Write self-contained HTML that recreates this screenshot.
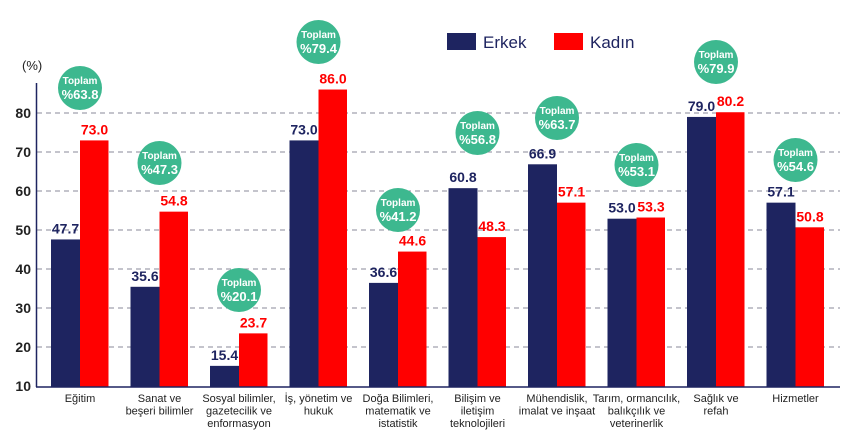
<!DOCTYPE html>
<html><head><meta charset="utf-8"><style>
body{margin:0;background:#fff;}
svg{display:block;font-family:"Liberation Sans",sans-serif;}
</style></head><body>
<svg width="860" height="446" viewBox="0 0 860 446" xmlns="http://www.w3.org/2000/svg">
<g stroke="#8a8a9a" stroke-dasharray="5,4" stroke-width="1">
<line x1="37" x2="840" y1="113" y2="113"/><line x1="37" x2="840" y1="152" y2="152"/>
<line x1="37" x2="840" y1="191" y2="191"/><line x1="37" x2="840" y1="230" y2="230"/>
<line x1="37" x2="840" y1="269" y2="269"/><line x1="37" x2="840" y1="308" y2="308"/>
<line x1="37" x2="840" y1="347" y2="347"/>
</g>
<g font-size="14" fill="#222" text-anchor="end" font-weight="bold">
<text x="31" y="118">80</text><text x="31" y="157">70</text><text x="31" y="196">60</text>
<text x="31" y="235">50</text><text x="31" y="274">40</text><text x="31" y="313">30</text>
<text x="31" y="352">20</text><text x="31" y="391">10</text>
</g>
<text x="22" y="70" font-size="13" fill="#222">(%)</text>
<rect x="447" y="33" width="29" height="17" fill="#1e2460"/>
<text x="483" y="48" font-size="17" fill="#1e2460">Erkek</text>
<rect x="554" y="33" width="29" height="17" fill="#ff0000"/>
<text x="590" y="48" font-size="17" fill="#1e2460">Kadın</text>
<g id="bars"></g>
<line x1="36.5" x2="36.5" y1="83" y2="387" stroke="#1e2460" stroke-width="1.5"/>
<line x1="36" x2="840" y1="387" y2="387" stroke="#1e2460" stroke-width="1.5"/>
<script>
var d=[["Eğitim",47.7,73.0,63.8,88,["Eğitim"]],["Sanat",35.6,54.8,47.3,163,["Sanat ve","beşeri bilimler"]],
["S",15.4,23.7,20.1,290,["Sosyal bilimler,","gazetecilik ve","enformasyon"]],["I",73.0,86.0,79.4,42,["İş, yönetim ve","hukuk"]],
["D",36.6,44.6,41.2,210,["Doğa Bilimleri,","matematik ve","istatistik"]],["B",60.8,48.3,56.8,133,["Bilişim ve","iletişim","teknolojileri"]],
["M",66.9,57.1,63.7,118,["Mühendislik,","imalat ve inşaat"]],["T",53.0,53.3,53.1,165,["Tarım, ormancılık,","balıkçılık ve","veterinerlik"]],
["S2",79.0,80.2,79.9,62,["Sağlık ve","refah"]],["H",57.1,50.8,54.6,160,["Hizmetler"]]];
var ns="http://www.w3.org/2000/svg",g=document.getElementById("bars");
function el(t,a,txt){var e=document.createElementNS(ns,t);for(var k in a)e.setAttribute(k,a[k]);if(txt!=null)e.textContent=txt;g.appendChild(e);return e;}
function Y(v){return 387-(v-10)*3.914;}
d.forEach(function(r,i){var c=80+i*79.5;
 var ye=Y(r[1]),yk=Y(r[2]);
 el("rect",{x:c-29,y:ye,width:29,height:387-ye,fill:"#1e2460"});
 el("rect",{x:c,y:yk,width:28.5,height:387-yk,fill:"#ff0000"});
 el("text",{x:c-14.5,y:ye-6,"font-size":14,"font-weight":"bold",fill:"#1e2460","text-anchor":"middle"},r[1].toFixed(1));
 el("text",{x:c+14.5,y:yk-6,"font-size":14,"font-weight":"bold",fill:"#ff0000","text-anchor":"middle"},r[2].toFixed(1));
 el("circle",{cx:c,cy:r[4],r:22,fill:"#3db88f"});
 el("text",{x:c,y:r[4]-4,"font-size":10,"font-weight":"bold",fill:"#fff","text-anchor":"middle"},"Toplam");
 el("text",{x:c,y:r[4]+11,"font-size":13,"font-weight":"bold",fill:"#fff","text-anchor":"middle"},"%"+r[3].toFixed(1));
 r[5].forEach(function(l,j){el("text",{x:c,y:402+j*12.5,"font-size":11,fill:"#222","text-anchor":"middle"},l);});
});
</script>
</svg>
</body></html>
